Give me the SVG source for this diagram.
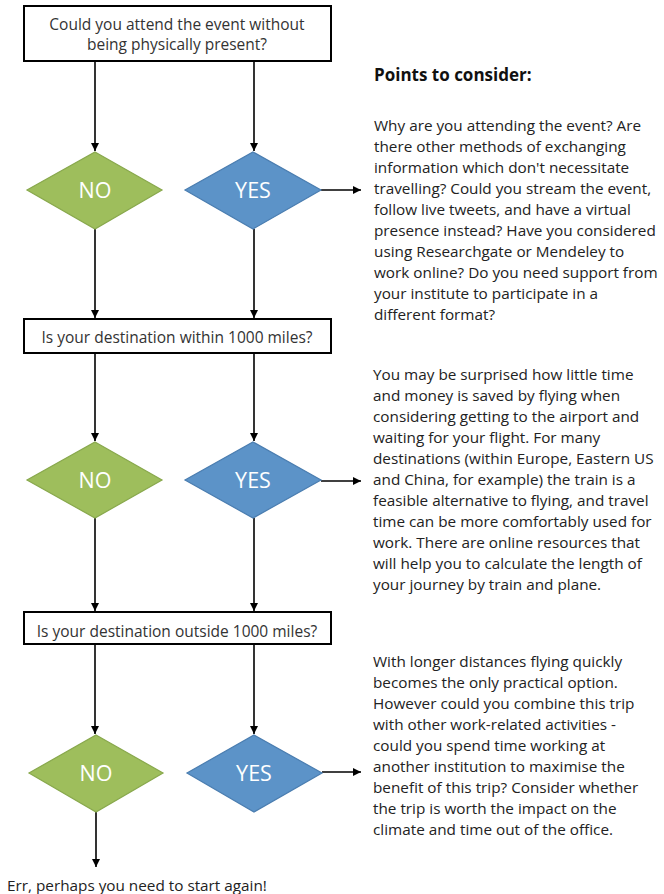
<svg xmlns="http://www.w3.org/2000/svg" width="664" height="894" viewBox="0 0 664 894">
<defs>
<marker id="arr" markerUnits="userSpaceOnUse" markerWidth="10" markerHeight="10" refX="8" refY="4" orient="auto">
<path d="M0,0 L8,4 L0,8 Z" fill="#000"/>
</marker>
<style>
.box{fill:#fff;stroke:#000;stroke-width:2}
.no{fill:#9EBE5C;stroke:#88A84C;stroke-width:1.2}
.yes{fill:#5C93C8;stroke:#4A7DB0;stroke-width:1.2}
.bt{font-family:"Open Sans","Liberation Sans",sans-serif;font-size:15.5px;fill:#333;text-anchor:middle}
.dt{font-family:"Open Sans","Liberation Sans",sans-serif;font-size:21.5px;fill:#fff;text-anchor:middle}
.rt{font-family:"Open Sans","Liberation Sans",sans-serif;font-size:15.3px;fill:#222}
.hd{font-family:"Open Sans","Liberation Sans",sans-serif;font-size:17px;font-weight:bold;fill:#111}
.c{fill:none;stroke:#000;stroke-width:1.6}
</style>
</defs>
<g id="connectors">
<line class="c" x1="95" y1="61" x2="95" y2="151" marker-end="url(#arr)"/>
<line class="c" x1="254" y1="61" x2="254" y2="151" marker-end="url(#arr)"/>
<line class="c" x1="321" y1="190" x2="361" y2="190" marker-end="url(#arr)"/>
<line class="c" x1="95" y1="229" x2="95" y2="318" marker-end="url(#arr)"/>
<line class="c" x1="254" y1="229" x2="254" y2="318" marker-end="url(#arr)"/>
<line class="c" x1="95" y1="353" x2="95" y2="441" marker-end="url(#arr)"/>
<line class="c" x1="254" y1="353" x2="254" y2="441" marker-end="url(#arr)"/>
<line class="c" x1="321" y1="481" x2="361" y2="481" marker-end="url(#arr)"/>
<line class="c" x1="95" y1="518" x2="95" y2="611" marker-end="url(#arr)"/>
<line class="c" x1="254" y1="518" x2="254" y2="611" marker-end="url(#arr)"/>
<line class="c" x1="95" y1="644" x2="95" y2="734" marker-end="url(#arr)"/>
<line class="c" x1="254" y1="644" x2="254" y2="734" marker-end="url(#arr)"/>
<line class="c" x1="322" y1="772" x2="361" y2="772" marker-end="url(#arr)"/>
<line class="c" x1="96" y1="812" x2="96" y2="867" marker-end="url(#arr)"/>
</g>
<g id="q1">
<rect class="box" x="24" y="6" width="307" height="55"/>
<text class="bt" x="177" y="30">Could you attend the event without</text>
<text class="bt" x="177" y="50">being physically present?</text>
</g>
<g id="no1">
<polygon class="no" points="95,152 162,190 95,229 27,190"/>
<text class="dt" x="95" y="198">NO</text>
</g>
<g id="yes1">
<polygon class="yes" points="253,152 321,190 253,229 185,190"/>
<text class="dt" x="253" y="198">YES</text>
</g>
<g id="q2">
<rect class="box" x="24" y="319" width="307" height="34"/>
<text class="bt" x="177" y="343">Is your destination within 1000 miles?</text>
</g>
<g id="no2">
<polygon class="no" points="95,442 162,480 95,518 27,480"/>
<text class="dt" x="95" y="488">NO</text>
</g>
<g id="yes2">
<polygon class="yes" points="253,442 321,480 253,518 185,480"/>
<text class="dt" x="253" y="488">YES</text>
</g>
<g id="q3">
<rect class="box" x="24" y="612" width="307" height="32"/>
<text class="bt" x="177" y="637">Is your destination outside 1000 miles?</text>
</g>
<g id="no3">
<polygon class="no" points="96,735 163,773 96,812 29,773"/>
<text class="dt" x="96" y="781">NO</text>
</g>
<g id="yes3">
<polygon class="yes" points="254,735 322,773 254,812 187,773"/>
<text class="dt" x="254" y="781">YES</text>
</g>
<g id="end">
<text class="rt" x="7" y="891">Err, perhaps you need to start again!</text>
</g>
<g id="notes">
<text class="hd" x="374" y="81">Points to consider:</text>
<text class="rt" x="374" y="131">Why are you attending the event? Are</text>
<text class="rt" x="374" y="152">there other methods of exchanging</text>
<text class="rt" x="374" y="173">information which don't necessitate</text>
<text class="rt" x="374" y="194">travelling? Could you stream the event,</text>
<text class="rt" x="374" y="215">follow live tweets, and have a virtual</text>
<text class="rt" x="374" y="236">presence instead? Have you considered</text>
<text class="rt" x="374" y="257">using Researchgate or Mendeley to</text>
<text class="rt" x="374" y="278">work online? Do you need support from</text>
<text class="rt" x="374" y="299">your institute to participate in a</text>
<text class="rt" x="374" y="320">different format?</text>
<text class="rt" x="373" y="380">You may be surprised how little time</text>
<text class="rt" x="373" y="401">and money is saved by flying when</text>
<text class="rt" x="373" y="422">considering getting to the airport and</text>
<text class="rt" x="373" y="443">waiting for your flight. For many</text>
<text class="rt" x="373" y="464">destinations (within Europe, Eastern US</text>
<text class="rt" x="373" y="485">and China, for example) the train is a</text>
<text class="rt" x="373" y="506">feasible alternative to flying, and travel</text>
<text class="rt" x="373" y="527">time can be more comfortably used for</text>
<text class="rt" x="373" y="548">work. There are online resources that</text>
<text class="rt" x="373" y="569">will help you to calculate the length of</text>
<text class="rt" x="373" y="590">your journey by train and plane.</text>
<text class="rt" x="373" y="667">With longer distances flying quickly</text>
<text class="rt" x="373" y="688">becomes the only practical option.</text>
<text class="rt" x="373" y="709">However could you combine this trip</text>
<text class="rt" x="373" y="730">with other work-related activities -</text>
<text class="rt" x="373" y="751">could you spend time working at</text>
<text class="rt" x="373" y="772">another institution to maximise the</text>
<text class="rt" x="373" y="793">benefit of this trip? Consider whether</text>
<text class="rt" x="373" y="814">the trip is worth the impact on the</text>
<text class="rt" x="373" y="835">climate and time out of the office.</text>
</g>
</svg>
